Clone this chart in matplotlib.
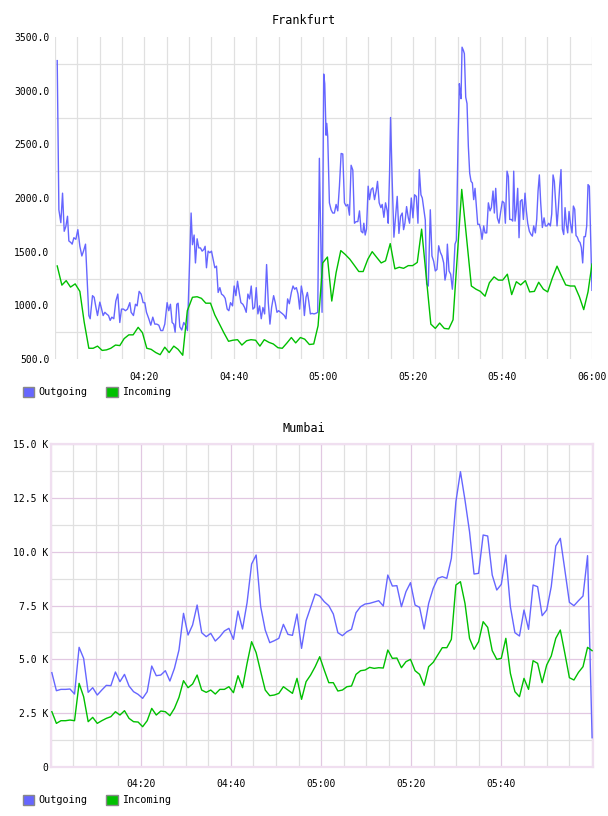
import numpy as np
import matplotlib
matplotlib.use("Agg")
from matplotlib import pyplot as plt
from matplotlib.patches import Patch
from matplotlib.ticker import FuncFormatter, MultipleLocator

plt.rcParams["font.family"] = ["DejaVu Sans Mono"]

# Frankfurt: (minutes after 04:00, value)
fra_outgoing = [
    (0.54, 3280), (0.91, 1890), (1.35, 1770), (1.73, 2045), (2.10, 1690), (2.47, 1735), (2.84, 1830),
    (3.14, 1600), (3.59, 1585), (3.88, 1570), (4.26, 1630), (4.70, 1615), (5.15, 1705), (5.60, 1550),
    (6.04, 1460), (6.41, 1505), (6.86, 1570), (7.60, 905), (7.90, 875), (8.42, 1090), (8.79, 1075),
    (9.17, 985), (9.54, 905), (10.06, 1030), (10.43, 970), (10.80, 905), (11.18, 935), (11.55, 920),
    (12.00, 905), (12.37, 860), (12.74, 890), (13.18, 875), (13.63, 1040), (14.08, 1105), (14.52, 840),
    (14.90, 965), (15.34, 965), (15.79, 950), (16.24, 965), (16.76, 1025), (17.05, 935), (17.57, 905),
    (18.02, 1010), (18.39, 995), (18.84, 1130), (19.29, 1105), (19.73, 1025), (20.10, 1025), (20.48, 935),
    (21.00, 875), (21.44, 815), (21.89, 890), (22.34, 825), (22.78, 825), (23.23, 815), (23.68, 765),
    (24.12, 765), (24.57, 825), (25.09, 1025), (25.46, 950), (25.83, 1010), (26.21, 840), (26.58, 825),
    (26.88, 750), (27.25, 1010), (27.55, 1020), (27.92, 800), (28.36, 770), (28.81, 840), (29.26, 810),
    (29.63, 765),
    (30.45, 1860), (30.75, 1565), (31.12, 1655), (31.42, 1395), (31.79, 1620), (32.16, 1535), (32.54, 1535),
    (32.91, 1505), (33.28, 1520), (33.58, 1550), (33.88, 1350), (34.25, 1505), (34.63, 1490), (35.00, 1505),
    (35.37, 1430), (35.75, 1350), (36.12, 1365), (36.49, 1120), (36.87, 1165), (37.24, 1105), (37.69, 1090),
    (38.06, 1065), (38.51, 965), (38.88, 950), (39.25, 1025), (39.70, 995), (40.07, 1180), (40.45, 1090),
    (40.82, 1225), (41.19, 1120), (41.57, 1025), (42.01, 1010), (42.39, 980), (42.76, 935), (43.13, 1105),
    (43.51, 1060), (43.88, 1180), (44.25, 965), (44.63, 980), (45.00, 1165), (45.37, 920), (45.75, 995),
    (46.12, 875), (46.49, 980), (46.87, 920), (47.31, 1380), (47.69, 1025), (48.06, 825), (48.43, 980),
    (48.88, 1090), (49.25, 1025), (49.63, 935), (50.00, 950), (50.45, 935), (50.90, 920), (51.27, 905),
    (51.64, 875), (52.01, 1060), (52.39, 1015), (52.84, 1120), (53.21, 1180), (53.58, 1150), (53.96, 1165),
    (54.33, 1105), (54.70, 965), (55.07, 1180), (55.45, 1090), (55.75, 905), (56.12, 1075), (56.42, 1120),
    (56.72, 1040), (57.09, 920), (57.46, 925), (57.91, 920), (58.28, 925), (58.73, 935), (59.10, 2370),
    (59.70, 935), (60.07, 3155),
    (60.30, 3065), (60.60, 2585), (60.75, 2695), (60.97, 2570), (61.34, 1955), (61.72, 1890), (62.09, 1860),
    (62.46, 1860), (62.84, 1940), (63.21, 1880), (63.58, 2110), (63.96, 2415), (64.33, 2410), (64.70, 1955),
    (65.07, 1925), (65.45, 1940), (65.82, 1840), (66.19, 2305), (66.57, 2260), (66.94, 1765), (67.31, 1780),
    (67.69, 1780), (68.06, 1880), (68.43, 1690), (68.81, 1675), (69.03, 1765), (69.33, 1655), (69.63, 1710),
    (70.00, 2110), (70.30, 1985), (70.67, 2080), (71.04, 2095), (71.42, 1985), (71.79, 2065), (72.09, 2155),
    (72.46, 1955), (72.84, 1910), (73.13, 1940), (73.51, 1820), (73.88, 1955), (74.25, 1880), (74.48, 1765),
    (74.78, 2235), (75.00, 2750), (75.37, 2155), (75.75, 1635), (76.12, 1830), (76.49, 2015), (76.87, 1670),
    (77.24, 1830), (77.61, 1860), (77.91, 1705), (78.21, 1765), (78.58, 1920), (78.96, 1815), (79.25, 1765),
    (79.63, 2000), (80.00, 1815), (80.37, 2030), (80.75, 2015), (81.12, 1765), (81.42, 2265), (81.79, 2030),
    (82.09, 2000), (82.46, 1890), (82.76, 1795), (83.06, 1200), (83.43, 1180), (83.88, 1890), (84.25, 1460),
    (84.63, 1410), (85.00, 1320), (85.37, 1335), (85.75, 1555), (86.12, 1495), (86.49, 1460), (86.87, 1395),
    (87.16, 1235), (87.46, 1300), (87.69, 1570), (88.06, 1320), (88.43, 1290), (88.81, 1150), (89.10, 1320),
    (89.40, 1570), (89.70, 1605), (90.07, 2510), (90.37, 3065),
    (90.52, 3000), (90.74, 2925), (90.97, 3405), (91.27, 3375), (91.49, 3345), (91.79, 2940), (92.08, 2880),
    (92.38, 2480), (92.68, 2230), (92.98, 2155), (93.28, 2140), (93.57, 1985), (93.87, 2090), (94.17, 1925),
    (94.47, 1755), (94.84, 1755), (95.14, 1705), (95.44, 1615), (95.81, 1740), (96.11, 1675), (96.48, 1675),
    (96.85, 1955), (97.22, 1880), (97.52, 1910), (97.89, 2065), (98.19, 1860), (98.49, 2090), (98.86, 1815),
    (99.23, 1765), (99.61, 1875), (99.98, 1970), (100.35, 1955), (100.65, 1765), (101.02, 2250), (101.32, 2200),
    (101.62, 1800), (101.99, 1800), (102.29, 1785), (102.51, 2250), (102.81, 1785), (103.10, 1890), (103.40, 2090),
    (103.70, 1630), (104.00, 1970), (104.37, 1985), (104.67, 1800), (105.04, 2045), (105.34, 1880), (105.64, 1765),
    (106.01, 1690), (106.38, 1660), (106.68, 1645), (106.98, 1740), (107.35, 1675), (107.65, 1800), (107.95, 2065),
    (108.24, 2215), (108.54, 1955), (108.91, 1725), (109.29, 1815), (109.58, 1740), (109.96, 1740), (110.33, 1765),
    (110.70, 1740), (111.00, 1850), (111.30, 2215), (111.59, 2155), (111.89, 1940), (112.19, 1740), (112.49, 1910),
    (112.78, 2110), (113.08, 2265), (113.38, 1710), (113.68, 1660), (113.98, 1910), (114.27, 1755), (114.57, 1675),
    (114.87, 1875), (115.17, 1765), (115.54, 1675), (115.84, 1925), (116.14, 1895), (116.43, 1650), (116.73, 1635),
    (117.03, 1600), (117.33, 1585), (117.62, 1540), (117.92, 1395), (118.22, 1640), (118.52, 1640), (118.82, 1740),
    (119.11, 2125), (119.41, 2110), (120.00, 1140),
]

fra_incoming = [
    (0.54, 1367), (1.58, 1188), (2.54, 1230), (3.51, 1170), (4.55, 1200), (5.60, 1130), (6.56, 845),
    (7.60, 600), (8.57, 600), (9.54, 620), (10.58, 580), (11.55, 585), (12.51, 600), (13.56, 630),
    (14.52, 625), (15.49, 690), (16.53, 725), (17.50, 725), (18.62, 795), (19.58, 745), (20.55, 600),
    (21.52, 590), (22.56, 560), (23.53, 540), (24.57, 610), (25.54, 560), (26.58, 620), (27.54, 590),
    (28.58, 535), (29.60, 950), (30.75, 1075), (31.79, 1080), (32.76, 1065), (33.73, 1020), (34.78, 1020),
    (35.75, 910), (36.79, 825), (37.76, 745), (38.81, 665), (39.78, 675), (40.82, 680), (41.79, 630),
    (42.84, 670), (43.81, 680), (44.85, 675), (45.82, 620), (46.79, 680), (47.84, 655), (48.81, 640),
    (49.85, 605), (50.82, 600), (51.87, 650), (52.84, 700), (53.81, 650), (54.85, 700), (55.82, 685),
    (56.87, 635), (57.84, 640), (58.81, 810), (59.85, 1395), (60.90, 1450), (61.87, 1040), (62.84, 1305),
    (63.88, 1510), (64.85, 1475), (65.90, 1430), (66.87, 1375), (67.91, 1315), (68.88, 1315), (69.93, 1430),
    (70.90, 1500), (71.94, 1445), (72.91, 1395), (73.88, 1415), (74.93, 1575), (75.97, 1340), (76.94, 1355),
    (77.91, 1345), (78.96, 1370), (79.93, 1370), (80.97, 1400), (81.94, 1710), (84.00, 825), (85.00, 785),
    (85.97, 835), (87.00, 785), (88.00, 780), (88.96, 865), (90.90, 2080), (93.05, 1180), (94.10, 1150),
    (95.06, 1130), (96.11, 1085), (97.07, 1210), (98.12, 1265), (99.08, 1235), (100.05, 1235), (101.09, 1290),
    (102.06, 1100), (103.10, 1220), (104.07, 1190), (105.12, 1230), (106.08, 1125), (107.13, 1130),
    (108.09, 1215), (109.14, 1150), (110.10, 1125), (111.15, 1255), (112.19, 1365), (113.16, 1275),
    (114.13, 1190), (115.17, 1180), (116.14, 1180), (117.18, 1080), (118.15, 960), (119.11, 1125),
    (120.00, 1385),
]

# Mumbai: one sample per minute from 04:00 to 06:00
mum_outgoing = [
    4374, 3536, 3598, 3598, 3614, 3381, 5553, 5041, 3459, 3676, 3335, 3567, 3784, 3769, 4405, 3955,
    4296, 3753, 3490, 3366, 3180, 3490, 4684, 4234, 4265, 4467, 3986, 4575, 5429, 7135, 6126, 6592,
    7522, 6235, 6049, 6204, 5847, 6049, 6313, 6437, 5925, 7243, 6406, 7631, 9430, 9849, 7445, 6359,
    5770, 5863, 5972, 6623, 6157, 6111, 7104, 5506, 6794, 7414, 8034, 7941,
    7677, 7491, 7104, 6235, 6095, 6281, 6390, 7166, 7445, 7569, 7600, 7662, 7724, 7476, 8918, 8406,
    8422, 7445, 8143, 8562, 7522, 7414, 6406, 7600, 8298, 8763, 8841, 8763, 9694, 12330, 13726, 12408,
    10935, 8965, 8996, 10780, 10733, 8918, 8220, 8484, 9849, 7445, 6235, 6080, 7290, 6390, 8453, 8375,
    7026, 7290, 8375, 10268, 10624, 9151, 7647, 7491, 7724, 7941, 9818, 1349,
]
mum_incoming = [
    2559, 2016, 2140, 2140, 2171, 2140, 3878, 3257, 2094, 2295, 2016, 2140, 2249, 2327, 2559, 2404,
    2606, 2249, 2094, 2078, 1861, 2140, 2714, 2404, 2590, 2559, 2373, 2714, 3226, 4002, 3676, 3846,
    4265, 3567, 3459, 3567, 3381, 3598, 3598, 3722, 3443, 4234, 3676, 4808, 5816, 5304, 4420, 3567,
    3304, 3335, 3412, 3722, 3567, 3412, 4110, 3133, 3955, 4265, 4653, 5118,
    4498, 3909, 3909, 3521, 3567, 3722, 3753, 4296, 4467, 4498, 4622, 4575, 4606, 4591, 5429, 5041,
    5056, 4606, 4886, 4994, 4467, 4296, 3784, 4653, 4855, 5196, 5537, 5537, 5925, 8453, 8608, 7600,
    5972, 5460, 5816, 6747, 6483, 5398, 4994, 5041, 5972, 4343, 3490, 3257, 4110, 3598, 4932, 4808,
    3909, 4731, 5149, 5972, 6359, 5273, 4141, 4033, 4389, 4653, 5553, 5398,
]
mum_minutes = np.linspace(0.3, 120.1, len(mum_outgoing))

series_names = ["Outgoing", "Incoming"]
BLUE = "#6666ff"
GREEN = "#00c000"
GRID = "#e0e0e0"
PURPLE = "#e2c8e2"
W, H = 608, 816


def hhmm(m, pos=None):
    m = int(round(m))
    return f"{4 + m // 60:02d}:{m % 60:02d}"


def add_legend(ax, y_px):
    handles = [Patch(facecolor=BLUE, edgecolor="#888888", linewidth=1.0),
               Patch(facecolor=GREEN, edgecolor="#888888", linewidth=1.0)]
    ax.legend(handles, series_names, loc="center left",
              bbox_to_anchor=(23 / W, 1 - y_px / H), bbox_transform=ax.figure.transFigure,
              ncol=2, frameon=False, fontsize=7.3, handlelength=1.1, handleheight=1.1,
              handletextpad=0.4, columnspacing=1.9, borderpad=0, borderaxespad=0)


fig = plt.figure(figsize=(W / 100, H / 100), dpi=100)

# --- Frankfurt
ax1 = fig.add_axes([54.8 / W, 1 - 359 / H, (592 - 54.8) / W, (359 - 37) / H])
t, v = zip(*fra_outgoing)
ax1.plot(t, v, color=BLUE, lw=1.0, zorder=3)
t, v = zip(*fra_incoming)
ax1.plot(t, v, color=GREEN, lw=1.0, zorder=3)
ax1.set_xlim(0, 120)
ax1.set_ylim(500, 3500)
ax1.xaxis.set_minor_locator(MultipleLocator(5))
ax1.yaxis.set_major_locator(MultipleLocator(500))
ax1.set_yticks(np.arange(750, 3500, 500), minor=True)
ax1.set_xticks([20, 40, 60, 80, 100, 120])
ax1.xaxis.set_major_formatter(FuncFormatter(hhmm))
ax1.yaxis.set_major_formatter(FuncFormatter(lambda y, p: f"{y:.1f}"))
ax1.grid(True, which="both", axis="x", color=GRID, lw=0.9)
ax1.grid(True, which="minor", axis="y", color=GRID, lw=0.9)
ax1.grid(False, which="major", axis="y")
for s in ax1.spines.values():
    s.set_visible(False)
ax1.tick_params(which="both", length=0, labelsize=7)
ax1.tick_params(axis="x", pad=9)
ax1.tick_params(axis="y", pad=4)
ax1.set_axisbelow(True)
add_legend(ax1, 392)
fig.text(0.5, 1 - 20 / H, "Frankfurt", ha="center", va="center", fontsize=8.5)

# --- Mumbai
ax2 = fig.add_axes([50.5 / W, 1 - 766.7 / H, (593 - 50.5) / W, (766.7 - 444.3) / H])
ax2.plot(mum_minutes, mum_outgoing, color=BLUE, lw=1.0, zorder=3)
ax2.plot(mum_minutes, mum_incoming, color=GREEN, lw=1.0, zorder=3)
ax2.set_xlim(0, 120.3)
ax2.set_ylim(0, 15000)
ax2.set_xticks([20, 40, 60, 80, 100])
ax2.xaxis.set_minor_locator(MultipleLocator(5))
ax2.yaxis.set_major_locator(MultipleLocator(2500))
ax2.yaxis.set_minor_locator(MultipleLocator(1250))
ax2.xaxis.set_major_formatter(FuncFormatter(hhmm))
ax2.yaxis.set_major_formatter(FuncFormatter(lambda y, p: "0" if y == 0 else f"{y / 1000:.1f} K"))
ax2.grid(True, which="minor", color=GRID, lw=0.9)
ax2.grid(True, which="major", color=PURPLE, lw=0.9)
for s in ax2.spines.values():
    s.set_color("#f0dff0")
    s.set_linewidth(1.6)
ax2.tick_params(which="both", length=0, labelsize=7)
ax2.tick_params(axis="x", pad=9)
ax2.tick_params(axis="y", pad=1.5)
ax2.set_axisbelow(True)
add_legend(ax2, 800)
fig.text(0.5, 1 - 428 / H, "Mumbai", ha="center", va="center", fontsize=8.5)

fig.savefig("out.png", dpi=100)
